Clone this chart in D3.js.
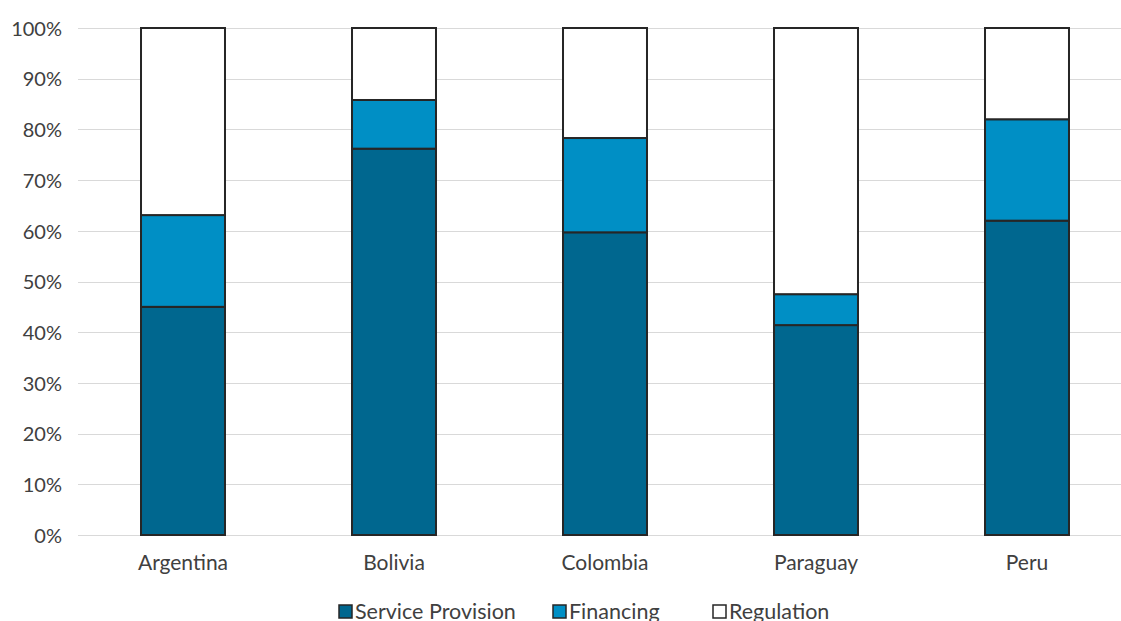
<!DOCTYPE html>
<html><head><meta charset="utf-8">
<script src="https://cdn.jsdelivr.net/npm/d3@7"></script>
<style>body{margin:0;background:#fff}svg{display:block}text{font-family:Lato,"Open Sans",sans-serif}</style>
</head><body><svg id="c" width="1121" height="621"></svg>
<script>
const categories = ["Argentina","Bolivia","Colombia","Paraguay","Peru"];
const serviceProvision = [45.0, 76.2, 59.7, 41.4, 62.0];
const financing = [18.1, 9.6, 18.6, 6.1, 20.0];
const regulation = [36.9, 14.2, 21.7, 52.5, 18.0];
const seriesNames = ["Service Provision","Financing","Regulation"];
const seriesColors = ["#00678F","#008FC5","#FFFFFF"];
const yTicks = [0,10,20,30,40,50,60,70,80,90,100];

const svg = d3.select("#c");
const left = 77.5, step = 211;
const x = d3.scaleBand().domain(categories).range([left, left + step*categories.length]).paddingInner(0.602).paddingOuter(0.301);
const y = d3.scaleLinear().domain([0,100]).range([535,28]);

const rows = categories.map((c,i)=>({cat:c,"Service Provision":serviceProvision[i],"Financing":financing[i],"Regulation":regulation[i]}));
const stack = d3.stack().keys(seriesNames)(rows);

// gridlines
svg.append("g").selectAll("line").data(yTicks).join("line")
  .attr("x1",78).attr("x2",1121).attr("y1",d=>Math.round(y(d))+0.5).attr("y2",d=>Math.round(y(d))+0.5)
  .attr("stroke","#d9d9d9").attr("stroke-width",1.2);

// y axis labels
const yAxis = d3.axisLeft(y).tickValues(yTicks).tickFormat(d=>d+"%").tickSize(0).tickPadding(0);
const ga = svg.append("g").attr("transform","translate(62,0)").call(yAxis);
ga.select(".domain").remove();
ga.selectAll("text").attr("font-size",20).attr("fill","#404040").attr("font-family","Lato,'Open Sans',sans-serif").attr("dy","0.36em");

// bars
svg.append("g").selectAll("g").data(stack).join("g")
  .attr("fill",(d,i)=>seriesColors[i])
  .selectAll("rect").data(d=>d).join("rect")
  .attr("x",d=>x(d.data.cat)).attr("width",x.bandwidth())
  .attr("y",d=>y(d[1])).attr("height",d=>y(d[0])-y(d[1]))
  .attr("stroke","#262626").attr("stroke-width",2);

// x axis labels
const xAxis = d3.axisBottom(x).tickSize(0).tickPadding(0);
const gx = svg.append("g").attr("transform","translate(0,563)").call(xAxis);
gx.select(".domain").remove();
gx.selectAll("text").attr("font-size",21).attr("fill","#404040").attr("font-family","Lato,'Open Sans',sans-serif").attr("dy","0.35em");

// legend
const legX = [338, 552, 712];
const lg = svg.append("g");
seriesNames.forEach((n,i)=>{
  lg.append("rect").attr("x",legX[i]+1).attr("y",605).attr("width",13).attr("height",13)
    .attr("fill",seriesColors[i]).attr("stroke","#262626").attr("stroke-width",1.5);
  lg.append("text").attr("x",legX[i]+17).attr("y",619).attr("font-size",21.5).attr("fill","#404040").text(n);
});
</script></body></html>
